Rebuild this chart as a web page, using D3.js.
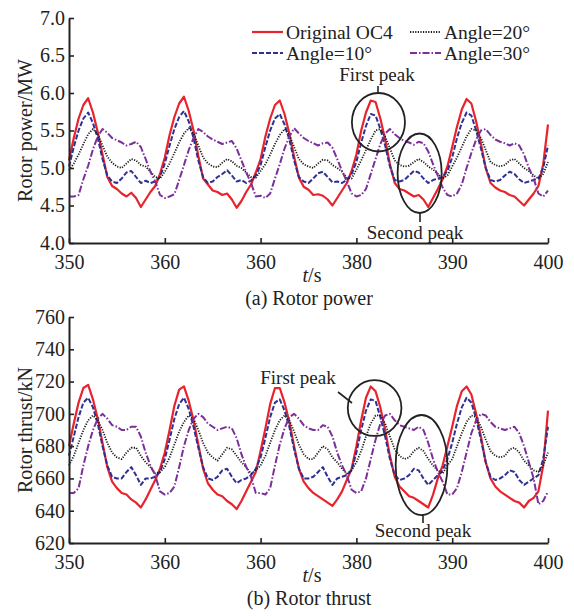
<html>
<meta charset="UTF-8">
<head>
<style>
  body { margin: 0; background: #fff; }
  text { font-family: "Liberation Serif", "Times New Roman", serif; fill: #222; }
</style>
</head>
<script src="https://cdn.jsdelivr.net/npm/d3@7"></script>
<body>
<div id="chart"></div>
<script>
// sampling times, 0.5 s step from 350 to 400 s
var times = d3.range(0, 101).map(i => 350 + i * 0.5);

var xTickValues = [350, 360, 370, 380, 390, 400];
var xTickLabels = ["350", "360", "360", "380", "390", "400"];

var seriesNames = ["Original OC4", "Angle=10°", "Angle=20°", "Angle=30°"];

// rotor power (MW)
var powerOC4 = [
  5.10, 5.40, 5.66, 5.84, 5.93, 5.74, 5.48, 5.18, 4.88, 4.76, 4.72, 4.66, 4.62, 4.67, 4.60, 4.48, 4.58, 4.68, 4.76, 4.92,
  5.14, 5.44, 5.68, 5.86, 5.95, 5.76, 5.50, 5.16, 4.86, 4.78, 4.70, 4.68, 4.64, 4.66, 4.58, 4.47, 4.56, 4.68, 4.78, 4.94,
  5.12, 5.42, 5.66, 5.84, 5.90, 5.72, 5.46, 5.15, 4.87, 4.75, 4.71, 4.64, 4.65, 4.63, 4.58, 4.50, 4.60, 4.70, 4.80, 4.96,
  5.18, 5.50, 5.74, 5.90, 5.88, 5.66, 5.38, 5.05, 4.80, 4.72, 4.70, 4.66, 4.62, 4.64, 4.58, 4.48, 4.60, 4.72, 4.85, 5.02,
  5.28, 5.55, 5.78, 5.92, 5.86, 5.62, 5.32, 5.00, 4.80, 4.74, 4.70, 4.68, 4.64, 4.62, 4.56, 4.50, 4.58, 4.66, 4.76, 5.05,
  5.58];
var powerA10 = [
  5.02, 5.28, 5.50, 5.66, 5.74, 5.60, 5.40, 5.12, 4.90, 4.82, 4.80, 4.86, 4.94, 4.96, 4.88, 4.80, 4.83, 4.80, 4.82, 4.88,
  5.06, 5.30, 5.52, 5.68, 5.76, 5.62, 5.40, 5.10, 4.88, 4.80, 4.82, 4.88, 4.92, 4.97, 4.90, 4.82, 4.84, 4.80, 4.83, 4.90,
  5.04, 5.28, 5.50, 5.66, 5.72, 5.58, 5.38, 5.10, 4.88, 4.82, 4.80, 4.86, 4.93, 4.95, 4.88, 4.81, 4.82, 4.80, 4.84, 4.92,
  5.08, 5.34, 5.56, 5.72, 5.70, 5.52, 5.30, 5.02, 4.84, 4.82, 4.84, 4.90, 4.96, 4.94, 4.86, 4.80, 4.84, 4.86, 4.88, 4.96,
  5.14, 5.40, 5.60, 5.74, 5.70, 5.50, 5.26, 5.00, 4.84, 4.82, 4.84, 4.90, 4.95, 4.92, 4.85, 4.80, 4.82, 4.84, 4.86, 5.00,
  5.30];
var powerA20 = [
  4.97, 5.06, 5.18, 5.32, 5.45, 5.52, 5.45, 5.30, 5.15, 5.07, 5.02, 5.00, 5.06, 5.12, 5.10, 5.04, 5.02, 4.95, 4.88, 4.86,
  4.95, 5.06, 5.20, 5.34, 5.46, 5.53, 5.46, 5.30, 5.14, 5.06, 5.02, 5.01, 5.07, 5.12, 5.09, 5.03, 5.00, 4.94, 4.88, 4.87,
  4.96, 5.05, 5.18, 5.32, 5.44, 5.52, 5.44, 5.28, 5.12, 5.05, 5.02, 5.00, 5.06, 5.11, 5.10, 5.04, 5.00, 4.95, 4.87, 4.86,
  4.98, 5.10, 5.24, 5.38, 5.50, 5.52, 5.42, 5.26, 5.10, 5.04, 5.02, 5.03, 5.08, 5.12, 5.08, 5.02, 4.98, 4.92, 4.86, 4.90,
  5.02, 5.14, 5.28, 5.42, 5.52, 5.50, 5.40, 5.24, 5.08, 5.04, 5.02, 5.04, 5.10, 5.12, 5.06, 5.00, 4.96, 4.90, 4.86, 4.92,
  5.08];
var powerA30 = [
  4.62, 4.62, 4.64, 4.85, 5.03, 5.25, 5.42, 5.52, 5.47, 5.40, 5.37, 5.34, 5.30, 5.32, 5.35, 5.28, 5.12, 4.95, 4.82, 4.64,
  4.60, 4.62, 4.65, 4.84, 5.04, 5.24, 5.40, 5.52, 5.48, 5.42, 5.38, 5.35, 5.32, 5.34, 5.36, 5.26, 5.10, 4.94, 4.80, 4.62,
  4.63, 4.60, 4.66, 4.86, 5.05, 5.26, 5.42, 5.53, 5.46, 5.40, 5.36, 5.33, 5.30, 5.33, 5.34, 5.27, 5.12, 4.96, 4.82, 4.66,
  4.62, 4.64, 4.72, 4.92, 5.12, 5.32, 5.46, 5.52, 5.45, 5.40, 5.36, 5.34, 5.31, 5.35, 5.33, 5.22, 5.05, 4.90, 4.74, 4.64,
  4.62, 4.66, 4.78, 5.00, 5.20, 5.38, 5.50, 5.52, 5.44, 5.38, 5.35, 5.33, 5.30, 5.33, 5.30, 5.18, 5.00, 4.86, 4.66, 4.62,
  4.70];

// rotor thrust (kN)
var thrustOC4 = [
  680, 694, 707, 716, 718, 709, 697, 682, 667, 658, 654, 651, 650, 647, 645, 642, 647, 653, 659, 666,
  676, 690, 705, 715, 717, 708, 696, 681, 666, 657, 653, 650, 649, 646, 644, 641, 646, 652, 658, 664,
  677, 691, 706, 716, 716, 707, 695, 680, 666, 658, 654, 651, 649, 647, 645, 643, 647, 652, 659, 666,
  680, 696, 710, 717, 714, 704, 690, 674, 661, 655, 652, 649, 648, 646, 644, 642, 650, 660, 668, 680,
  692, 705, 714, 717, 712, 700, 686, 670, 660, 655, 652, 650, 648, 646, 645, 642, 646, 648, 652, 668,
  702];
var thrustA10 = [
  674, 686, 698, 707, 710, 704, 694, 680, 668, 661, 660, 660, 664, 667, 662, 656, 660, 660, 661, 664,
  672, 684, 697, 706, 710, 703, 692, 679, 667, 660, 659, 661, 665, 666, 661, 657, 659, 660, 662, 666,
  673, 685, 698, 707, 709, 702, 692, 678, 666, 660, 660, 661, 664, 667, 661, 656, 660, 661, 662, 665,
  676, 690, 702, 709, 708, 698, 686, 672, 662, 659, 660, 662, 666, 665, 660, 656, 659, 662, 665, 672,
  682, 694, 704, 710, 707, 697, 684, 670, 661, 659, 660, 662, 665, 664, 659, 656, 658, 660, 662, 672,
  692];
var thrustA20 = [
  668, 674, 682, 690, 696, 699, 696, 690, 682, 676, 673, 672, 676, 679, 679, 674, 670, 667, 663, 664,
  667, 673, 681, 689, 695, 699, 697, 690, 682, 676, 673, 671, 675, 679, 678, 674, 670, 667, 663, 665,
  668, 674, 682, 690, 696, 699, 696, 689, 681, 675, 672, 672, 676, 680, 678, 673, 670, 666, 663, 665,
  670, 677, 686, 694, 699, 699, 694, 686, 678, 674, 672, 673, 677, 679, 677, 672, 668, 665, 663, 668,
  672, 680, 688, 695, 699, 698, 692, 684, 677, 674, 673, 674, 678, 679, 676, 671, 668, 665, 664, 668,
  676];
var thrustA30 = [
  651, 651, 654, 668, 680, 690, 697, 700, 697, 693, 692, 690, 690, 692, 692, 686, 676, 668, 662, 652,
  650, 651, 655, 667, 680, 690, 697, 700, 698, 694, 692, 690, 691, 692, 691, 685, 675, 667, 661, 651,
  651, 650, 654, 668, 681, 691, 698, 700, 697, 693, 691, 690, 690, 693, 692, 686, 676, 668, 662, 653,
  651, 652, 660, 672, 684, 694, 699, 700, 696, 693, 692, 691, 690, 692, 690, 682, 672, 664, 658, 650,
  650, 654, 664, 676, 688, 696, 700, 699, 695, 692, 691, 690, 691, 692, 688, 680, 670, 660, 644, 646,
  652];

var width = 574;
var height = 616;

var lineStyles = [
  { color: "#e8232b", width: 2.2, dash: null },
  { color: "#2e3192", width: 2, dash: "5,2" },
  { color: "#1a1a1a", width: 1.8, dash: "1.2,1.4" },
  { color: "#7b2f98", width: 2, dash: "7,2,1.5,2" }
];

var svg = d3.select("#chart").append("svg")
  .attr("width", width)
  .attr("height", height);

var x = d3.scaleLinear().domain([350, 400]).range([69, 548]);

function drawPanel(opts) {
  var y = d3.scaleLinear().domain(opts.domain).range([opts.bottom, opts.top]);
  var g = svg.append("g");

  var line = d3.line()
    .x((d, i) => x(times[i]))
    .y(d => y(d));

  opts.series.forEach((s, k) => {
    var st = lineStyles[k];
    g.append("path")
      .datum(s)
      .attr("fill", "none")
      .attr("stroke", st.color)
      .attr("stroke-width", st.width)
      .attr("stroke-dasharray", st.dash)
      .attr("stroke-linejoin", "round")
      .attr("d", line);
  });

  // x axis, ticks point inward
  var xAxis = d3.axisBottom(x)
    .tickValues(xTickValues)
    .tickFormat((d, i) => xTickLabels[i])
    .tickSizeInner(-5)
    .tickSizeOuter(0)
    .tickPadding(12);
  var gx = g.append("g")
    .attr("transform", `translate(0,${opts.bottom})`)
    .call(xAxis);

  var yAxis = d3.axisLeft(y)
    .tickValues(opts.ticks)
    .tickFormat(opts.format)
    .tickSizeInner(-5)
    .tickSizeOuter(0)
    .tickPadding(4);
  var gy = g.append("g")
    .attr("transform", `translate(${x(350)},0)`)
    .call(yAxis);

  [gx, gy].forEach(a => {
    a.selectAll(".domain").attr("stroke", "#222").attr("stroke-width", 2);
    a.selectAll(".tick line").attr("stroke", "#222").attr("stroke-width", 1.6);
    a.selectAll("text")
      .attr("font-family", "Liberation Serif")
      .attr("font-size", 20)
      .attr("fill", "#222");
  });

  // y label
  svg.append("text")
    .attr("transform", `translate(32,${(opts.top + opts.bottom) / 2}) rotate(-90)`)
    .attr("text-anchor", "middle")
    .attr("font-size", 20)
    .text(opts.yLabel);

  // x label t/s
  var xl = svg.append("text")
    .attr("x", 312)
    .attr("y", opts.bottom + 39)
    .attr("text-anchor", "middle")
    .attr("font-size", 20);
  xl.append("tspan").attr("font-style", "italic").text("t");
  xl.append("tspan").text("/s");

  // caption
  svg.append("text")
    .attr("x", 309)
    .attr("y", opts.bottom + 62)
    .attr("text-anchor", "middle")
    .attr("font-size", 20)
    .text(opts.caption);

  // annotation ellipses
  opts.marks.forEach(m => {
    var cx = x(m.t), cy = y(m.v);
    var rx = x(m.t + m.rt) - cx, ry = cy - y(m.v + m.rv);
    g.append("ellipse")
      .attr("cx", cx).attr("cy", cy)
      .attr("rx", rx).attr("ry", ry)
      .attr("fill", "none")
      .attr("stroke", "#222")
      .attr("stroke-width", 1.8);
  });

  return y;
}

var yTop = drawPanel({
  top: 18, bottom: 243,
  domain: [4.0, 7.0],
  ticks: [4.0, 4.5, 5.0, 5.5, 6.0, 6.5, 7.0],
  format: d3.format(".1f"),
  series: [powerOC4, powerA10, powerA20, powerA30],
  yLabel: "Rotor power/MW",
  caption: "(a) Rotor power",
  marks: [
    { t: 382.3, v: 5.61, rt: 2.77, rv: 0.39 },
    { t: 386.6, v: 4.93, rt: 2.3, rv: 0.53 }
  ]
});

var yBot = drawPanel({
  top: 317, bottom: 543,
  domain: [620, 760],
  ticks: [620, 640, 660, 680, 700, 720, 740, 760],
  format: d3.format("d"),
  series: [thrustOC4, thrustA10, thrustA20, thrustA30],
  yLabel: "Rotor thrust/kN",
  caption: "(b) Rotor thrust",
  marks: [
    { t: 381.9, v: 703.6, rt: 2.8, rv: 17.3 },
    { t: 386.8, v: 668.3, rt: 2.7, rv: 31 }
  ]
});

// peak labels and leader lines
function note(txt, tx, ty, x1, y1, x2, y2) {
  svg.append("line")
    .attr("x1", x1).attr("y1", y1).attr("x2", x2).attr("y2", y2)
    .attr("stroke", "#222").attr("stroke-width", 1.6);
  svg.append("text")
    .attr("x", tx).attr("y", ty)
    .attr("text-anchor", "middle")
    .attr("font-size", 19)
    .text(txt);
}
note("First peak", 377, 81, 378, 86, 378, 94);
note("Second peak", 415, 239, 420, 213, 420, 222);
note("First peak", 298, 384, 338, 392, 352, 403);
note("Second peak", 423, 537, 423, 514, 423, 523);

// legend
var legendPos = [[252, 32], [252, 53], [410, 32], [410, 53]];
var legendOrder = [0, 1, 2, 3];
legendOrder.forEach(k => {
  var st = lineStyles[k];
  var p = legendPos[k];
  svg.append("line")
    .attr("x1", p[0]).attr("x2", p[0] + 31)
    .attr("y1", p[1]).attr("y2", p[1])
    .attr("stroke", st.color)
    .attr("stroke-width", st.width)
    .attr("stroke-dasharray", st.dash);
  svg.append("text")
    .attr("x", p[0] + 34)
    .attr("y", p[1])
    .attr("dominant-baseline", "central")
    .attr("font-size", 19.5)
    .text(seriesNames[k]);
});
</script>
</body>
</html>
